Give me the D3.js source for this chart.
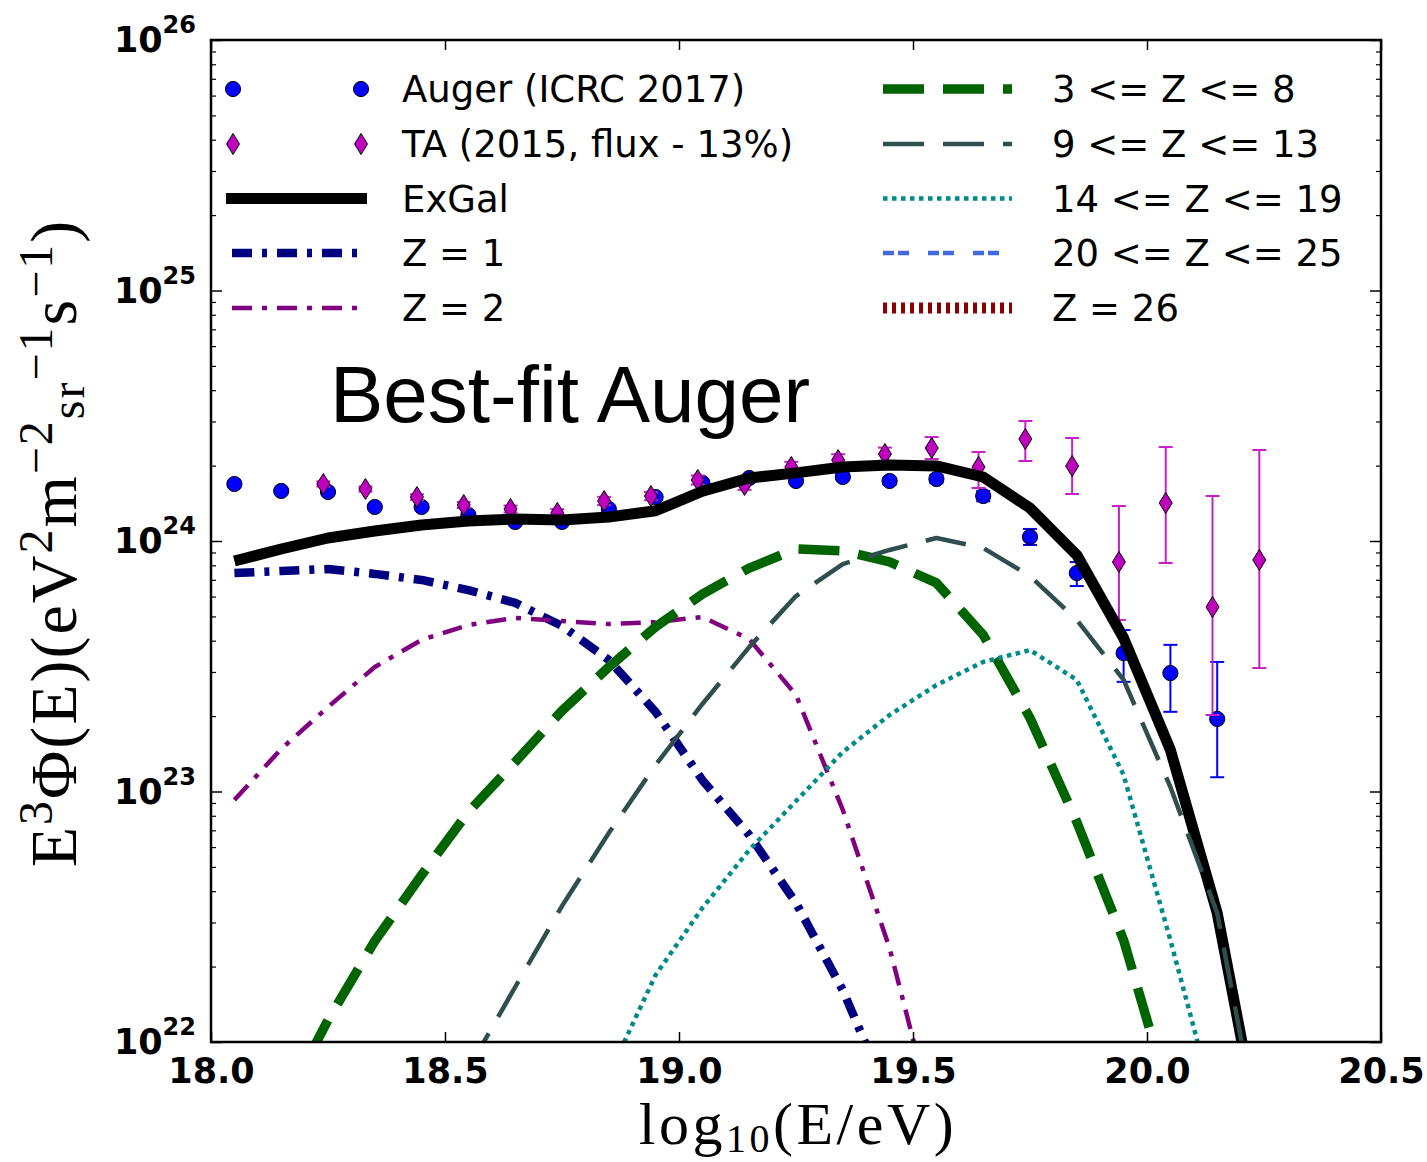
<!DOCTYPE html>
<html><head><meta charset="utf-8">
<script src="https://cdn.jsdelivr.net/npm/d3@7"></script>
<style>body{margin:0;background:#fff;} svg{display:block;}</style>
</head><body>
<svg id="chart" width="1427" height="1162"></svg>
<script>
// ---------------- DATA ----------------
const augerLogE = [18.05,18.15,18.25,18.35,18.45,18.55,18.65,18.75,18.85,18.95,19.05,19.15,19.25,19.35,19.45,19.55,19.65,19.75,19.85,19.95,20.05,20.15];
const augerFlux = [1.689e24,1.584e24,1.569e24,1.367e24,1.367e24,1.270e24,1.191e24,1.191e24,1.342e24,1.498e24,1.705e24,1.784e24,1.736e24,1.801e24,1.736e24,1.768e24,1.512e24,1.038e24,7.45e23,3.57e23,2.97e23,1.948e23];
const augerLo   = [1.66e24,1.56e24,1.545e24,1.345e24,1.345e24,1.25e24,1.17e24,1.17e24,1.32e24,1.47e24,1.67e24,1.745e24,1.69e24,1.75e24,1.68e24,1.70e24,1.44e24,9.64e23,6.61e23,2.74e23,2.08e23,1.14e23];
const augerHi   = [1.72e24,1.61e24,1.595e24,1.39e24,1.39e24,1.29e24,1.21e24,1.21e24,1.365e24,1.525e24,1.74e24,1.825e24,1.78e24,1.855e24,1.79e24,1.84e24,1.585e24,1.117e24,8.24e23,4.41e23,3.85e23,3.29e23];

const taLogE = [18.24,18.33,18.44,18.54,18.64,18.74,18.84,18.94,19.04,19.14,19.24,19.34,19.44,19.54,19.64,19.74,19.84,19.94,20.04,20.14,20.24];
const taFlux = [1.689e24,1.613e24,1.498e24,1.392e24,1.342e24,1.294e24,1.444e24,1.512e24,1.752e24,1.674e24,1.974e24,2.105e24,2.225e24,2.351e24,1.974e24,2.554e24,1.993e24,8.25e23,1.418e24,5.45e23,8.40e23];
const taLo   = [1.65e24,1.575e24,1.46e24,1.355e24,1.30e24,1.25e24,1.39e24,1.455e24,1.68e24,1.60e24,1.88e24,1.995e24,2.09e24,2.125e24,1.628e24,2.086e24,1.540e24,4.84e23,8.17e23,2.02e23,3.11e23];
const taHi   = [1.73e24,1.65e24,1.535e24,1.43e24,1.385e24,1.34e24,1.50e24,1.57e24,1.825e24,1.75e24,2.07e24,2.22e24,2.36e24,2.60e24,2.266e24,3.013e24,2.578e24,1.379e24,2.372e24,1.512e24,2.308e24];

const modelLogE = [18.05,18.15,18.25,18.35,18.45,18.55,18.65,18.75,18.85,18.95,19.05,19.15,19.25,19.35,19.45,19.55,19.65,19.75,19.85,19.95,20.05,20.15,20.25];
const exGal   = [8.32e23,9.29e23,1.028e24,1.096e24,1.159e24,1.202e24,1.225e24,1.213e24,1.247e24,1.32e24,1.58e24,1.784e24,1.87e24,1.974e24,2.011e24,1.993e24,1.801e24,1.354e24,8.79e23,4.10e23,1.465e23,3.27e22,3.48e21];
const zEq1    = [7.45e23,7.59e23,7.73e23,7.39e23,6.99e23,6.37e23,5.66e23,4.58e23,3.35e23,2.08e23,1.11e23,6.71e22,3.59e22,1.61e22,5.87e21,null,null,null,null,null,null,null,null];
const zEq2    = [9.25e22,1.478e23,2.174e23,3.14e23,4.03e23,4.62e23,4.93e23,4.79e23,4.66e23,4.75e23,4.97e23,4.06e23,2.43e23,8.44e22,2.37e22,4.46e21,null,null,null,null,null,null,null];
const z3to8   = [null,5.35e21,1.224e22,2.53e22,4.64e22,8.29e22,1.312e23,2.10e23,3.14e23,4.54e23,6.14e23,7.80e23,9.29e23,9.13e23,8.25e23,6.80e23,4.22e23,1.966e23,7.56e22,2.55e22,5.87e21,null,null];
const z9to13  = [null,null,null,null,null,7.80e21,1.658e22,3.49e22,6.83e22,1.276e23,2.236e23,3.77e23,6.03e23,8.09e23,9.21e23,1.028e24,9.38e23,7.25e23,4.84e23,2.79e23,1.042e23,3.27e22,3.38e21];
const z14to19 = [null,null,null,null,null,null,null,null,7.39e21,1.851e22,3.43e22,5.84e22,9.16e22,1.438e23,2.02e23,2.66e23,3.29e23,3.67e23,2.79e23,1.164e23,2.55e22,5.11e21,null];

const xTicks = [18.0,18.5,19.0,19.5,20.0,20.5];
const xTickLabels = ["18.0","18.5","19.0","19.5","20.0","20.5"];
const yDecades = [22,23,24,25,26];

const legendLeft = ["Auger (ICRC 2017)","TA (2015, flux - 13%)","ExGal","Z = 1","Z = 2"];
const legendRight = ["3 <= Z <= 8","9 <= Z <= 13","14 <= Z <= 19","20 <= Z <= 25","Z = 26"];

// ---------------- SETUP ----------------
const svg = d3.select("#chart");
const P = {l:211, r:1381, t:40, b:1042};
const x = d3.scaleLinear().domain([18, 20.5]).range([P.l, P.r]);
const y = d3.scaleLog().domain([1e22, 1e26]).range([P.b, P.t]);

svg.append("rect").attr("width",1427).attr("height",1162).attr("fill","#fff");
svg.append("defs").append("clipPath").attr("id","clip")
  .append("rect").attr("x",P.l).attr("y",P.t).attr("width",P.r-P.l).attr("height",P.b-P.t);

const styles = {
  exgal: {color:"#000000", w:11, dash:null},
  z1:    {color:"#000080", w:8.5, dash:"20,10,5,10"},
  z2:    {color:"#800080", w:4.5, dash:"20,10,5,10"},
  z38:   {color:"#006400", w:9.5, dash:"41,19"},
  z913:  {color:"#2f4f4f", w:4.5, dash:"41,19"},
  z1419: {color:"#008b8b", w:4.5, dash:"4.5,4.5"},
  z2025: {color:"#4169e1", w:4.5, dash:"11,4,11,19"},
  z26:   {color:"#8b0000", w:11, dash:"4,5"}
};

const plotG = svg.append("g").attr("clip-path","url(#clip)");

function errorbars(xs, lo, hi, color) {
  const g = plotG.append("g").attr("stroke", color).attr("stroke-width", 2).attr("fill","none");
  xs.forEach((xv,i) => {
    const xp = x(xv);
    g.append("line").attr("x1",xp).attr("x2",xp).attr("y1",y(lo[i])).attr("y2",y(hi[i]));
    g.append("line").attr("x1",xp-7).attr("x2",xp+7).attr("y1",y(lo[i])).attr("y2",y(lo[i]));
    g.append("line").attr("x1",xp-7).attr("x2",xp+7).attr("y1",y(hi[i])).attr("y2",y(hi[i]));
  });
}
errorbars(augerLogE, augerLo, augerHi, "#0000ff");
plotG.append("g").selectAll("circle").data(augerLogE).join("circle")
  .attr("cx", d => x(d)).attr("cy", (d,i) => y(augerFlux[i])).attr("r", 7.6)
  .attr("fill","#0000ff").attr("stroke","#000").attr("stroke-width",1);

errorbars(taLogE, taLo, taHi, "#c71fc7");
const diamond = "M0,-10.5L6.5,0L0,10.5L-6.5,0Z";
plotG.append("g").selectAll("path").data(taLogE).join("path")
  .attr("transform", (d,i) => `translate(${x(d)},${y(taFlux[i])})`)
  .attr("d", diamond).attr("fill","#bf00bf").attr("stroke","#000").attr("stroke-width",1);

function drawLine(vals, st) {
  const line = d3.line().defined(d => d[1] != null)
    .x(d => x(d[0])).y(d => y(d[1])).curve(d3.curveLinear);
  const pts = modelLogE.map((e,i) => [e, vals[i]]);
  const p = plotG.append("path").datum(pts).attr("d", line)
    .attr("fill","none").attr("stroke", st.color).attr("stroke-width", st.w)
    .attr("stroke-linejoin","round");
  if (st.dash) p.attr("stroke-dasharray", st.dash);
}
drawLine(exGal, styles.exgal);
drawLine(zEq1, styles.z1);
drawLine(zEq2, styles.z2);
drawLine(z3to8, styles.z38);
drawLine(z9to13, styles.z913);
drawLine(z14to19, styles.z1419);

// ---------------- AXES ----------------
const axG = svg.append("g");
axG.append("rect").attr("x",P.l).attr("y",P.t).attr("width",P.r-P.l).attr("height",P.b-P.t)
  .attr("fill","none").attr("stroke","#000").attr("stroke-width",2.5);

const xb = axG.append("g").attr("transform",`translate(0,${P.b})`)
  .call(d3.axisBottom(x).tickValues(xTicks).tickSize(-10).tickPadding(16)
        .tickFormat((d,i) => xTickLabels[i]));
xb.select(".domain").remove();
xb.selectAll("line").attr("stroke","#000").attr("stroke-width",1.5);
xb.selectAll("text").attr("font-family","'DejaVu Sans', sans-serif").attr("font-weight","bold")
  .attr("font-size",35).attr("fill","#000");
const xt = axG.append("g").attr("transform",`translate(0,${P.t})`)
  .call(d3.axisTop(x).tickValues(xTicks).tickSize(-10).tickFormat(""));
xt.select(".domain").remove();
xt.selectAll("line").attr("stroke","#000").attr("stroke-width",1.5);

const minorVals = [];
for (let e = 22; e < 26; e++) for (let m = 2; m <= 9; m++) minorVals.push(m * Math.pow(10, e));
const majorVals = yDecades.map(e => Math.pow(10, e));
[[d3.axisLeft, P.l], [d3.axisRight, P.r]].forEach(([ax, xpos]) => {
  const gM = axG.append("g").attr("transform",`translate(${xpos},0)`)
    .call(ax(y).tickValues(majorVals).tickSize(-11).tickFormat(""));
  gM.select(".domain").remove();
  gM.selectAll("line").attr("stroke","#000").attr("stroke-width",1.5);
  const gm = axG.append("g").attr("transform",`translate(${xpos},0)`)
    .call(ax(y).tickValues(minorVals).tickSize(-5).tickFormat(""));
  gm.select(".domain").remove();
  gm.selectAll("line").attr("stroke","#000").attr("stroke-width",1.2);
});

yDecades.forEach(e => {
  const yp = y(Math.pow(10, e));
  const t = axG.append("text").attr("x",196).attr("y",yp + 12)
    .attr("text-anchor","end").attr("font-family","'DejaVu Sans', sans-serif")
    .attr("font-weight","bold").attr("fill","#000");
  t.append("tspan").attr("font-size",35).text("10");
  t.append("tspan").attr("font-size",24).attr("dy",-19).text(String(e));
});

function mathText(g, parts, size, subSize, supShift, subShift) {
  let cur = 0;
  parts.forEach(p => {
    const target = p.s === "sup" ? -supShift : p.s === "sub" ? subShift : 0;
    const ts = g.append("tspan").text(p.t)
      .attr("font-size", p.s ? subSize : size);
    if (target !== cur) ts.attr("dy", target - cur);
    cur = target;
  });
}
const xl = svg.append("text").attr("x", (P.l+P.r)/2 + 2).attr("y", 1144)
  .attr("text-anchor","middle").attr("font-family","'Liberation Serif', serif").attr("fill","#000")
  .attr("letter-spacing", 3.5);
mathText(xl, [{t:"log"},{t:"10",s:"sub"},{t:"(E/eV)"}], 60, 40, 22, 8);

const yl = svg.append("text").attr("transform","translate(76,543) rotate(-90)")
  .attr("text-anchor","middle").attr("font-family","'Liberation Serif', serif").attr("fill","#000")
  .attr("letter-spacing", 2);
mathText(yl, [{t:"E"},{t:"3",s:"sup"},{t:"Φ(E)(eV"},{t:"2",s:"sup"},{t:"m"},{t:"−2",s:"sup"},
  {t:"sr",s:"sub"},{t:"−1",s:"sup"},{t:"s"},{t:"−1",s:"sup"},{t:")"}], 66, 48, 24, 8);

svg.append("text").attr("x",330).attr("y",422).attr("font-family","'Liberation Sans', Arial, sans-serif")
  .attr("font-size",80).attr("fill","#000").text("Best-fit Auger");

// ---------------- LEGEND ----------------
const rowY = [89, 144, 198.5, 253, 308];
const lg = svg.append("g").attr("font-family","'DejaVu Sans', sans-serif").attr("font-size",37).attr("fill","#000");
legendLeft.forEach((lab,i) => lg.append("text").attr("x",402).attr("y",rowY[i]+13).text(lab));
legendRight.forEach((lab,i) => lg.append("text").attr("x",1052).attr("y",rowY[i]+13).text(lab));
[233, 361].forEach(xp => {
  lg.append("circle").attr("cx",xp).attr("cy",rowY[0]).attr("r",7.6)
    .attr("fill","#0000ff").attr("stroke","#000").attr("stroke-width",1);
  lg.append("path").attr("transform",`translate(${xp},${rowY[1]})`).attr("d",diamond)
    .attr("fill","#bf00bf").attr("stroke","#000").attr("stroke-width",1);
});
function legLine(x1, x2, yy, st) {
  const l = lg.append("line").attr("x1",x1).attr("x2",x2).attr("y1",yy).attr("y2",yy)
    .attr("stroke",st.color).attr("stroke-width",st.w);
  if (st.dash) l.attr("stroke-dasharray",st.dash);
}
legLine(226, 367, rowY[2], styles.exgal);
legLine(232, 361, rowY[3], styles.z1);
legLine(232, 361, rowY[4], styles.z2);
legLine(883, 1012, rowY[0], styles.z38);
legLine(883, 1012, rowY[1], styles.z913);
legLine(883, 1012, rowY[2], styles.z1419);
legLine(883, 1012, rowY[3], styles.z2025);
legLine(883, 1012, rowY[4], styles.z26);
</script>
</body></html>
